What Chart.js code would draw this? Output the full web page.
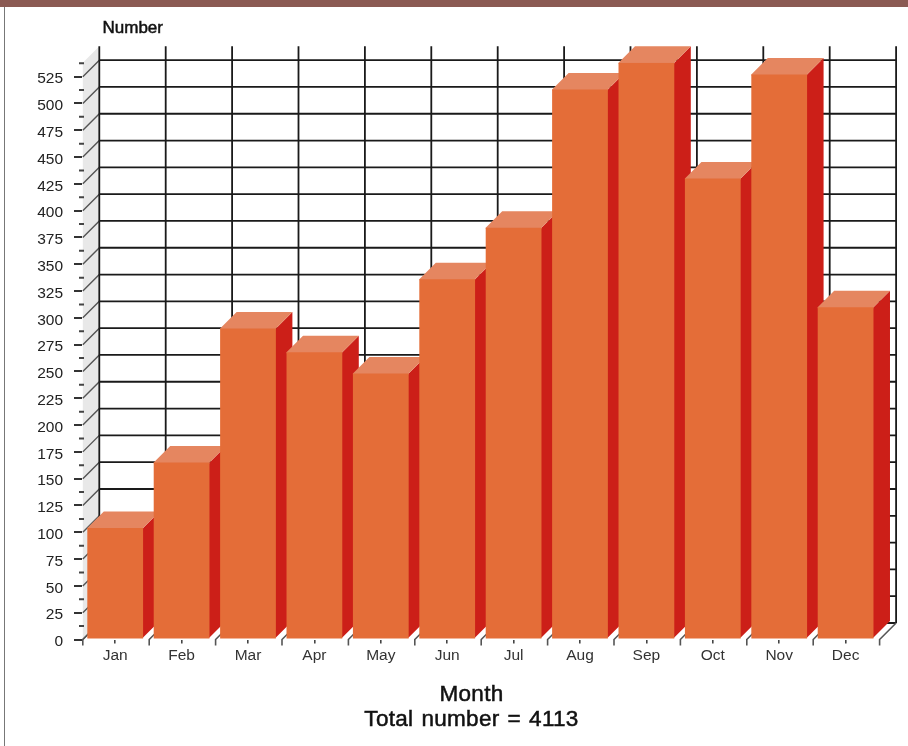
<!DOCTYPE html>
<html>
<head>
<meta charset="utf-8">
<title>Number per month</title>
<script src="https://cdn.jsdelivr.net/npm/chart.js@4"></script>
<style>
  html, body { margin: 0; padding: 0; background: #fff; overflow: hidden; }
  #top { position: absolute; left: 0; top: 0; width: 908px; height: 7px; background: #8b5a53; }
  #side { position: absolute; left: 3.5px; top: 7px; width: 1.5px; height: 739px; background: #777; }
  #canvas { position: absolute; left: 0; top: 0; }
</style>
</head>
<body>
<div id="top"></div>
<div id="side"></div>
<canvas id="canvas" width="908" height="746"></canvas>
<script>
const months = ['Jan', 'Feb', 'Mar', 'Apr', 'May', 'Jun', 'Jul', 'Aug', 'Sep', 'Oct', 'Nov', 'Dec']
const counts = [104, 165, 290, 268, 248, 336, 384, 513, 538, 430, 527, 310]
const yMax = 538
const yStep = 25
const xTitle = ['Month', 'Total number = 4113']
const yTitle = 'Number'

const depth = 16.5
const font = 'Liberation Sans'

// titles are regular weight thickened with a thin outline
function heavyText(ctx, text, x, y, width) {
  ctx.lineWidth = width
  ctx.strokeText(text, x, y)
  ctx.fillText(text, x, y)
}

// fake 3d: back wall, left wall and floor lines, then bar sides and tops
const box3d = {
  id: 'box3d',
  beforeDatasetsDraw(chart) {
    const { ctx, chartArea: area, scales } = chart
    const y = scales.y
    const left = area.left + 0.8
    const right = area.right + 0.8
    const backTop = area.top - depth
    const backBottom = area.bottom - depth
    const slot = (right - left) / months.length

    ctx.save()
    ctx.fillStyle = '#e8e8e8'
    ctx.beginPath()
    ctx.moveTo(left, area.top)
    ctx.lineTo(left + depth, backTop)
    ctx.lineTo(left + depth, backBottom)
    ctx.lineTo(left, area.bottom)
    ctx.closePath()
    ctx.fill()

    // wall diagonals
    ctx.strokeStyle = '#555'
    ctx.lineWidth = 1.4
    ctx.beginPath()
    y.ticks.forEach(t => {
      const py = y.getPixelForValue(t.value)
      ctx.moveTo(left, py)
      ctx.lineTo(left + depth, py - depth)
    })
    ctx.stroke()

    // back wall grid
    ctx.strokeStyle = '#1a1a1a'
    ctx.lineWidth = 1.8
    ctx.beginPath()
    y.ticks.forEach(t => {
      const py = y.getPixelForValue(t.value) - depth
      ctx.moveTo(left + depth, py)
      ctx.lineTo(right + depth, py)
    })
    for (let i = 0; i <= months.length; i++) {
      ctx.moveTo(left + depth + slot * i, backTop)
      ctx.lineTo(left + depth + slot * i, backBottom)
    }
    ctx.stroke()

    // half-step marks beside the value axis
    ctx.strokeStyle = '#444'
    ctx.lineWidth = 2
    ctx.beginPath()
    for (let v = yStep / 2; v < yMax; v += yStep) {
      const py = y.getPixelForValue(v)
      ctx.moveTo(area.left - 3, py)
      ctx.lineTo(area.left + 2, py)
    }
    ctx.stroke()

    // floor lines and the stubs under them
    ctx.strokeStyle = '#555'
    ctx.lineWidth = 1.6
    ctx.beginPath()
    for (let i = 0; i <= months.length; i++) {
      const px = left + slot * i
      ctx.moveTo(px, area.bottom + 6)
      ctx.lineTo(px, area.bottom)
      ctx.lineTo(px + depth, backBottom)
    }
    ctx.stroke()

    // faces run a pixel under the front so no seam shows
    const bars = chart.getDatasetMeta(0).data
    bars.forEach(bar => {
      const x0 = bar.x - bar.width / 2
      const x1 = bar.x + bar.width / 2
      const bottom = bar.base - 1
      ctx.fillStyle = '#cc1f18'
      ctx.beginPath()
      ctx.moveTo(x1 - 1, bar.y)
      ctx.lineTo(x1, bar.y)
      ctx.lineTo(x1 + depth, bar.y - depth)
      ctx.lineTo(x1 + depth, bottom - depth)
      ctx.lineTo(x1, bottom)
      ctx.lineTo(x1 - 1, bottom)
      ctx.closePath()
      ctx.fill()
      ctx.fillStyle = '#e58660'
      ctx.beginPath()
      ctx.moveTo(x0, bar.y + 1)
      ctx.lineTo(x0, bar.y)
      ctx.lineTo(x0 + depth, bar.y - depth)
      ctx.lineTo(x1 + depth, bar.y - depth)
      ctx.lineTo(x1, bar.y)
      ctx.lineTo(x1, bar.y + 1)
      ctx.closePath()
      ctx.fill()
    })
    ctx.restore()
  },
  afterDraw(chart) {
    const { ctx } = chart
    ctx.save()
    ctx.fillStyle = '#111'
    ctx.strokeStyle = '#111'
    ctx.textBaseline = 'middle'
    ctx.font = '17px "' + font + '"'
    heavyText(ctx, yTitle, 102.5, 28.5, 0.5)
    ctx.textAlign = 'center'
    ctx.font = '22.5px "' + font + '"'
    ctx.letterSpacing = '0.3px'
    ctx.wordSpacing = '1.5px'
    heavyText(ctx, xTitle[0], 471.5, 694.5, 0.5)
    heavyText(ctx, xTitle[1], 471.5, 719.5, 0.5)
    ctx.restore()
  },
}

const data = {
  labels: months,
  datasets: [
    {
      label: yTitle,
      data: counts,
      backgroundColor: '#e46d38',
      barPercentage: 0.84,
      categoryPercentage: 1,
    },
  ],
}

const config = {
  type: 'bar',
  data: data,
  plugins: [box3d],
  options: {
    responsive: false,
    animation: false,
    layout: { padding: { left: 0, right: 29.2, top: 62.7, bottom: 0 } },
    plugins: { legend: { display: false }, title: { display: false }, tooltip: { enabled: false } },
    scales: {
      x: {
        afterFit: s => { s.height = 106.5 },
        border: { display: false },
        grid: {
          offset: false,
          drawOnChartArea: false,
          color: '#444',
          lineWidth: 1.6,
          tickLength: 4,
        },
        ticks: {
          color: '#333',
          padding: 3,
          maxRotation: 0,
          font: { family: font, size: 15.5 },
        },
      },
      y: {
        min: 0,
        max: yMax,
        afterFit: s => { s.width = 82 },
        border: { display: false },
        grid: {
          drawOnChartArea: false,
          color: '#333',
          lineWidth: 2,
          tickLength: 8,
        },
        ticks: {
          stepSize: yStep,
          includeBounds: false,
          color: '#222',
          padding: 11,
          labelOffset: 2.5,
          font: { family: font, size: 15.5 },
        },
      },
    },
  },
}

const canvas = document.getElementById('canvas')
const chart = new Chart(canvas, config)
</script>
</body>
</html>
